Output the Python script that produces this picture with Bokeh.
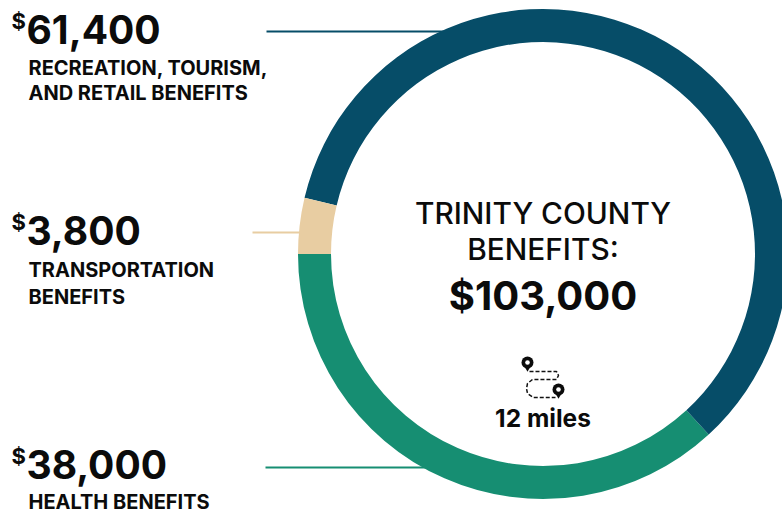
from math import radians
from bokeh.embed import file_html
from bokeh.resources import INLINE
from bokeh.plotting import figure
from bokeh.core.properties import value

# ring order, running from the left of the ring through the bottom
categories = ["Health benefits", "Recreation, tourism, and retail benefits", "Transportation benefits"]
values = [38000, 61400, 3800]
colors = ["#168E72", "#064D68", "#E8CDA2"]
amount_labels = ["38,000", "61,400", "3,800"]
label_lines = [["HEALTH BENEFITS"], ["RECREATION, TOURISM,", "AND RETAIL BENEFITS"], ["TRANSPORTATION", "BENEFITS"]]
title_lines = ["TRINITY COUNTY", "BENEFITS:"]
total_label = "$103,000"
distance_label = "12 miles"

FONT = "Inter"
W, H = 782, 514
p = figure(width=W, height=H, x_range=(0, 782), y_range=(514, 0), output_backend="svg",
           toolbar_location=None, min_border=0, outline_line_color=None)
p.axis.visible = False
p.grid.visible = False

leader_y = [467, 31, 232]
leader_x0 = [265, 266, 252]
leader_x1 = [430, 450, 305]
for i in range(3):
    p.line([leader_x0[i], leader_x1[i]], [leader_y[i], leader_y[i]], line_color=colors[i], line_width=2)

cx, cy, r_out, r_in = 542.5, 253.5, 245, 212
total = sum(values)
a = 180.0
for v, c in zip(values, colors):
    b = a + 360.0 * v / total
    p.annular_wedge(x=[cx], y=[cy], inner_radius=r_in, outer_radius=r_out,
                    start_angle=radians(a), end_angle=radians(b), direction="anticlock",
                    fill_color=c, line_color=None)
    a = b


def txt(x, y, s, size, weight="bold", align="left", font=FONT):
    # y is the wanted baseline on the page; the renderer sits text about 0.36 em lower
    p.text(x=[x], y=[y - 0.36 * size], text=[s], text_font=value(font), text_font_size=f"{size}px",
           text_font_style=weight, text_align=align, text_baseline="alphabetic", text_color="#0B0B0B")


amount_y = [478, 43, 244]
line_y = [[509], [75, 100], [276.5, 303.5]]
for i in range(3):
    txt(11, amount_y[i] - 15, "$", 22)
    txt(26, amount_y[i], amount_labels[i], 39)
    for s, y in zip(label_lines[i], line_y[i]):
        txt(28, y, s, 20)

txt(542.5, 223.5, title_lines[0], 29.8, "normal", "center", "Inter Medium")
txt(542.5, 259, title_lines[1], 29.8, "normal", "center", "Inter Medium")
txt(542.5, 309, total_label, 40, "bold", "center")
txt(542.5, 426, distance_label, 24.5, "bold", "center")

p.line([529, 556, 558, 556, 532, 527, 526, 527, 533, 555],
       [371, 371, 375, 379, 379, 383, 388, 393, 397, 397],
       line_color="#111111", line_width=1.5, line_dash="4 2")
for px, py in [(527, 362), (558, 389)]:
    p.scatter([px], [py + 4], marker="inverted_triangle", size=9, fill_color="#0B0B0B", line_color=None)
    p.circle([px], [py], radius=6, fill_color="#0B0B0B", line_color=None)
    p.circle([px], [py], radius=2.3, fill_color="white", line_color=None)

open("out.html", "w").write(file_html(p, INLINE))
